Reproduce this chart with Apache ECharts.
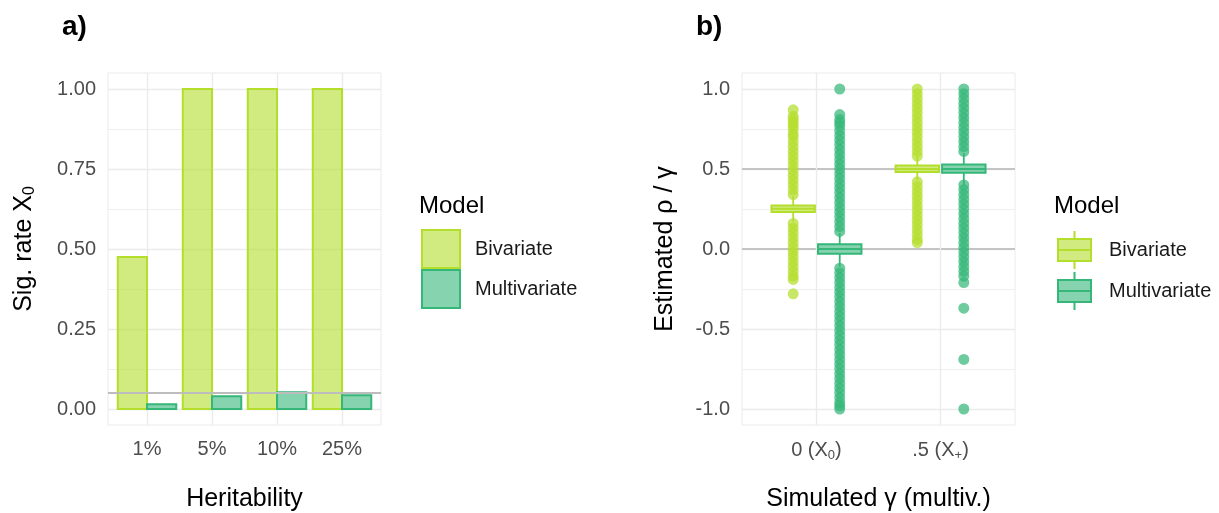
<!DOCTYPE html>
<html><head><meta charset="utf-8">
<script src="https://cdn.jsdelivr.net/npm/echarts@6/dist/echarts.min.js"></script>
<style>html,body{margin:0;padding:0;background:#fff}#c{width:1219px;height:513px}</style>
</head><body><div id="c"></div>
<script>
// ---------- Panel a data ----------
const heritCats = ['1%', '5%', '10%', '25%'];
const sigBivariate = [0.475, 1.0, 1.0, 1.0];
const sigMultivariate = [0.015, 0.040, 0.052, 0.043];
const sigThreshold = 0.05;
const sigTicks = [0, 0.25, 0.5, 0.75, 1.0];
const sigMinorTicks = [0.125, 0.375, 0.625, 0.875];

// ---------- Panel b data ----------
const gammaCats = ['0', '.5'];
const gammaSubs = ['0', '+'];
const estTicks = [-1, -0.5, 0, 0.5, 1];
const estMinorTicks = [-0.75, -0.25, 0.25, 0.75];
const estRefLines = [0, 0.5];
// [lower whisker, Q1, median, Q3, upper whisker]
const boxBivariate = [[0.17, 0.232, 0.252, 0.272, 0.33], [0.43, 0.482, 0.50, 0.522, 0.575]];
const boxMultivariate = [[-0.11, -0.03, 0.0, 0.03, 0.10], [0.40, 0.476, 0.50, 0.528, 0.60]];
const outBivariate0 = [0.34, 0.37, 0.40, 0.43, 0.46, 0.49, 0.52, 0.55, 0.58, 0.61, 0.64, 0.67, 0.70, 0.72, 0.75, 0.77, 0.79, 0.81, 0.83, 0.87,
  0.16, 0.13, 0.10, 0.07, 0.04, 0.01, -0.02, -0.05, -0.08, -0.11, -0.14, -0.17, -0.19, -0.28];
const outMultivariate0 = [0.11, 0.14, 0.17, 0.20, 0.23, 0.26, 0.29, 0.32, 0.35, 0.38, 0.41, 0.44, 0.47, 0.50, 0.53, 0.56, 0.59, 0.62, 0.65, 0.68, 0.71, 0.74, 0.77, 0.79, 0.81, 0.84, 1.00,
  -0.12, -0.15, -0.18, -0.21, -0.24, -0.27, -0.30, -0.33, -0.36, -0.39, -0.42, -0.45, -0.48, -0.51, -0.54, -0.57, -0.60, -0.63, -0.66, -0.69, -0.72, -0.75, -0.78, -0.81, -0.84, -0.87, -0.90, -0.93, -0.96, -0.98, -1.00];
const outBivariate5 = [0.58, 0.61, 0.64, 0.67, 0.70, 0.73, 0.76, 0.79, 0.82, 0.85, 0.88, 0.91, 0.94, 0.97, 1.00,
  0.42, 0.39, 0.36, 0.33, 0.30, 0.27, 0.24, 0.21, 0.18, 0.15, 0.12, 0.09, 0.06, 0.04];
const outMultivariate5 = [0.61, 0.64, 0.67, 0.70, 0.73, 0.76, 0.79, 0.82, 0.85, 0.88, 0.91, 0.94, 0.97, 1.00,
  0.40, 0.37, 0.34, 0.31, 0.28, 0.25, 0.22, 0.19, 0.16, 0.13, 0.10, 0.07, 0.04, 0.01, -0.02, -0.05, -0.08, -0.11, -0.14, -0.17, -0.21, -0.37, -0.69, -1.00];

// ---------- styles ----------
const strokeBi = '#B4DE2C', fillBi = 'rgba(180,222,44,0.6)';
const strokeMu = '#35B779', fillMu = 'rgba(53,183,121,0.6)';
const FONT = "'Liberation Sans', Arial, sans-serif";
const GRID = '#ebebeb';
const BAR_W = 0.45, DODGE = 0.1875, BOX_HALF = 0.175;

function barRender(side, fill, stroke) {
  return function (params, api) {
    const x = api.value(0), v = api.value(1);
    const x0 = side < 0 ? x - BAR_W : x, x1 = side < 0 ? x : x + BAR_W;
    const p0 = api.coord([x0, v]), p1 = api.coord([x1, 0]);
    return { type: 'rect', shape: { x: p0[0], y: p0[1], width: p1[0] - p0[0], height: p1[1] - p0[1] },
      style: { fill: fill, stroke: stroke, lineWidth: 2 } };
  };
}
function boxRender(off, fill, stroke) {
  return function (params, api) {
    const x = api.value(0) + off;
    const lo = api.value(1), q1 = api.value(2), med = api.value(3), q3 = api.value(4), hi = api.value(5);
    const L = api.coord([x - BOX_HALF, q3]), R = api.coord([x + BOX_HALF, q1]);
    const c = api.coord([x, med]), pHi = api.coord([x, hi]), pLo = api.coord([x, lo]);
    return { type: 'group', children: [
      { type: 'line', shape: { x1: c[0], y1: pHi[1], x2: c[0], y2: L[1] }, style: { stroke: stroke, lineWidth: 1.8 } },
      { type: 'line', shape: { x1: c[0], y1: R[1], x2: c[0], y2: pLo[1] }, style: { stroke: stroke, lineWidth: 1.8 } },
      { type: 'rect', shape: { x: L[0], y: L[1], width: R[0] - L[0], height: R[1] - L[1] }, style: { fill: fill, stroke: stroke, lineWidth: 2 } },
      { type: 'line', shape: { x1: L[0], y1: c[1], x2: R[0], y2: c[1] }, style: { stroke: stroke, lineWidth: 2 } }
    ] };
  };
}
function outliers(off, arr0, arr5) {
  return arr0.map(y => [0 + off, y]).concat(arr5.map(y => [1 + off, y]));
}

const tickLabel = { fontSize: 20, color: '#4d4d4d', fontFamily: FONT };
const axisName = { fontSize: 25, color: '#000', fontFamily: FONT };
const boxIcon = 'path://M16.5,0 L16.5,8 M0,8 L33,8 L33,30 L0,30 Z M0,19 L33,19 M16.5,30 L16.5,38';

const chart = echarts.init(document.getElementById('c'), null, { renderer: 'canvas' });
chart.setOption({
  animation: false,
  backgroundColor: '#fff',
  textStyle: { fontFamily: FONT },
  title: [
    { text: 'a)', left: 62, top: 13, padding: 0, textStyle: { fontSize: 28, fontWeight: 'bold', color: '#000', fontFamily: FONT } },
    { text: 'b)', left: 696, top: 13, padding: 0, textStyle: { fontSize: 28, fontWeight: 'bold', color: '#000', fontFamily: FONT } },
    { text: 'Model', left: 419, top: 194, padding: 0, textStyle: { fontSize: 24, fontWeight: 'normal', color: '#000', fontFamily: FONT } },
    { text: 'Model', left: 1054, top: 194, padding: 0, textStyle: { fontSize: 24, fontWeight: 'normal', color: '#000', fontFamily: FONT } }
  ],
  legend: [
    { left: 421, top: 229, orient: 'vertical', itemWidth: 38, itemHeight: 38, itemGap: 0, padding: 0, selectedMode: false,
      textStyle: { fontSize: 20, color: '#1a1a1a', fontFamily: FONT, padding: [0, 0, 0, 10] },
      data: [
        { name: 'Bivariate', icon: 'rect', itemStyle: { color: fillBi, borderColor: strokeBi, borderWidth: 2 } },
        { name: 'Multivariate', icon: 'rect', itemStyle: { color: fillMu, borderColor: strokeMu, borderWidth: 2 } }
      ] },
    { left: 1057, top: 230, orient: 'vertical', itemWidth: 33, itemHeight: 38, itemGap: 1, padding: 0, selectedMode: false,
      textStyle: { fontSize: 20, color: '#1a1a1a', fontFamily: FONT, padding: [0, 0, 0, 13] },
      data: [
        { name: 'Bivariate', icon: boxIcon, itemStyle: { color: fillBi, borderColor: strokeBi, borderWidth: 2 } },
        { name: 'Multivariate', icon: boxIcon, itemStyle: { color: fillMu, borderColor: strokeMu, borderWidth: 2 } }
      ] }
  ],
  grid: [
    { left: 108, top: 73, width: 273, height: 352, show: true, borderColor: GRID, borderWidth: 1, backgroundColor: 'transparent', outerBoundsMode: 'none', containLabel: false },
    { left: 742, top: 73, width: 273, height: 352, show: true, borderColor: GRID, borderWidth: 1, backgroundColor: 'transparent', outerBoundsMode: 'none', containLabel: false }
  ],
  xAxis: [
    { type: 'value', gridIndex: 0, min: 0.4, max: 4.6,
      axisLine: { show: false }, axisTick: { show: false, customValues: [1, 2, 3, 4] },
      axisLabel: { customValues: [1, 2, 3, 4], formatter: v => heritCats[Math.round(v) - 1], margin: 14, ...tickLabel },
      splitLine: { show: true, lineStyle: { color: GRID, width: 1.4 } },
      name: 'Heritability', nameLocation: 'middle', nameGap: 62, nameTextStyle: axisName },
    { type: 'value', gridIndex: 1, min: -0.6, max: 1.6,
      axisLine: { show: false }, axisTick: { show: false, customValues: [0, 1] },
      axisLabel: { customValues: [0, 1], margin: 14, ...tickLabel,
        formatter: v => { const i = Math.round(v); return gammaCats[i] + ' (X{sub|' + gammaSubs[i] + '})'; },
        rich: { sub: { fontSize: 13, color: '#4d4d4d', fontFamily: FONT, padding: [10, 0, 0, 0] } } },
      splitLine: { show: true, lineStyle: { color: GRID, width: 1.4 } },
      name: 'Simulated γ (multiv.)', nameLocation: 'middle', nameGap: 62, nameTextStyle: axisName }
  ],
  yAxis: [
    { type: 'value', gridIndex: 0, min: -0.05, max: 1.05,
      axisLine: { show: false }, axisTick: { show: false, customValues: sigTicks },
      axisLabel: { customValues: sigTicks, formatter: v => v.toFixed(2), margin: 12, ...tickLabel },
      splitLine: { show: true, lineStyle: { color: GRID, width: 1.4 } },
      name: 'Sig. rate X{sub|0}', nameLocation: 'middle', nameGap: 70, nameRotate: 90,
      nameTextStyle: { ...axisName, rich: { sub: { fontSize: 16, color: '#000', fontFamily: FONT, padding: [12, 0, 0, 0] } } } },
    { type: 'value', gridIndex: 0, min: -0.05, max: 1.05,
      axisLine: { show: false }, axisTick: { show: false, customValues: sigMinorTicks }, axisLabel: { show: false },
      splitLine: { show: true, lineStyle: { color: GRID, width: 0.8 } } },
    { type: 'value', gridIndex: 1, min: -1.1, max: 1.1,
      axisLine: { show: false }, axisTick: { show: false, customValues: estTicks },
      axisLabel: { customValues: estTicks, formatter: v => v.toFixed(1), margin: 12, ...tickLabel },
      splitLine: { show: true, lineStyle: { color: GRID, width: 1.4 } },
      name: 'Estimated ρ / γ', nameLocation: 'middle', nameGap: 64, nameRotate: 90, nameTextStyle: axisName },
    { type: 'value', gridIndex: 1, min: -1.1, max: 1.1,
      axisLine: { show: false }, axisTick: { show: false, customValues: estMinorTicks }, axisLabel: { show: false },
      splitLine: { show: true, lineStyle: { color: GRID, width: 0.8 } } },
    { type: 'value', gridIndex: 1, min: -1.1, max: 1.1,
      axisLine: { show: false }, axisTick: { show: false, customValues: estRefLines }, axisLabel: { show: false },
      splitLine: { show: true, lineStyle: { color: '#c4c4c4', width: 1.8 } } }
  ],
  series: [
    { name: 'Bivariate', type: 'custom', xAxisIndex: 0, yAxisIndex: 0, z: 2,
      renderItem: barRender(-1, fillBi, strokeBi), itemStyle: { color: fillBi, borderColor: strokeBi },
      data: heritCats.map((c, i) => [i + 1, sigBivariate[i]]) },
    { name: 'Multivariate', type: 'custom', xAxisIndex: 0, yAxisIndex: 0, z: 2,
      renderItem: barRender(1, fillMu, strokeMu), itemStyle: { color: fillMu, borderColor: strokeMu },
      data: heritCats.map((c, i) => [i + 1, sigMultivariate[i]]),
      markLine: { silent: true, symbol: 'none', label: { show: false }, z: 5,
        lineStyle: { color: '#bdbdbd', width: 2, type: 'solid' }, data: [{ yAxis: sigThreshold }] } },
    { name: 'Bivariate', type: 'scatter', xAxisIndex: 1, yAxisIndex: 2, z: 2, symbolSize: 11,
      itemStyle: { color: strokeBi, opacity: 0.72 }, data: outliers(-DODGE, outBivariate0, outBivariate5) },
    { name: 'Multivariate', type: 'scatter', xAxisIndex: 1, yAxisIndex: 2, z: 2, symbolSize: 11,
      itemStyle: { color: strokeMu, opacity: 0.72 }, data: outliers(DODGE, outMultivariate0, outMultivariate5) },
    { name: 'Bivariate', type: 'custom', xAxisIndex: 1, yAxisIndex: 2, z: 3,
      renderItem: boxRender(-DODGE, fillBi, strokeBi), itemStyle: { color: fillBi, borderColor: strokeBi },
      data: boxBivariate.map((b, i) => [i].concat(b)) },
    { name: 'Multivariate', type: 'custom', xAxisIndex: 1, yAxisIndex: 2, z: 3,
      renderItem: boxRender(DODGE, fillMu, strokeMu), itemStyle: { color: fillMu, borderColor: strokeMu },
      data: boxMultivariate.map((b, i) => [i].concat(b)) }
  ]
});
</script></body></html>
